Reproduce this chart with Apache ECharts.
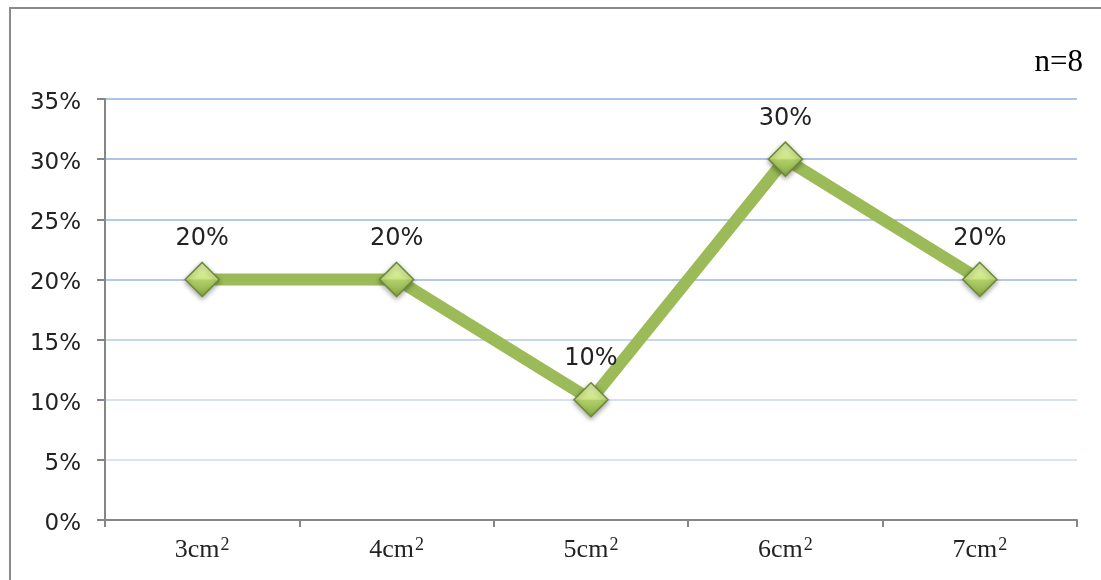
<!DOCTYPE html>
<html>
<head>
<meta charset="utf-8">
<script src="https://cdn.jsdelivr.net/npm/echarts@6/dist/echarts.min.js"></script>
<style>
  html, body { margin: 0; padding: 0; background: #fff; }
  #chart { width: 1101px; height: 580px; }
</style>
</head>
<body>
<div id="chart"></div>
<script>
// Share of samples per leaf area (n=8)
const categories = ['3cm²', '4cm²', '5cm²', '6cm²', '7cm²'];
const shares = [20, 20, 10, 30, 20];
const sampleNote = 'n=8';

const chart = echarts.init(document.getElementById('chart'), null, { renderer: 'canvas' });

const axisGray = '#868686';
const green = '#9BBB59';
const serif = '"Liberation Serif", "DejaVu Serif", serif';
const sans = '"DejaVu Sans", Verdana, sans-serif';

// gridline shades from 0% upward: paler near the bottom
const gridShades = ['#d6e1f2', '#d8e3f3', '#d6e1f2', '#c8d7ef', '#b4c9ea', '#b4c9ea', '#adc4e8', '#adc4e8'];

chart.setOption({
  backgroundColor: '#ffffff',
  animation: false,
  grid: { left: 105, right: 24, top: 99, bottom: 60 },
  graphic: [
    {
      type: 'polyline',
      silent: true,
      shape: { points: [[10, 590], [10, 8], [1120, 8]] },
      style: { stroke: '#8a8a8a', lineWidth: 2, fill: null }
    },
    {
      type: 'text',
      right: 18,
      top: 47,
      style: {
        text: sampleNote,
        font: '31px ' + serif,
        fill: '#000'
      }
    }
  ],
  xAxis: {
    type: 'category',
    data: categories,
    boundaryGap: true,
    axisLine: { lineStyle: { color: axisGray, width: 2 } },
    axisTick: { show: true, length: 7, lineStyle: { color: axisGray, width: 2 } },
    axisLabel: {
      margin: 16,
      // draw the trailing "²" as a raised, smaller digit
      formatter: (v) => '{base|' + v.replace('²', '') + '}{sup|2}',
      rich: {
        base: { fontSize: 26, fontFamily: serif, color: '#222' },
        sup: { fontSize: 18, fontFamily: serif, color: '#222', verticalAlign: 'top', padding: [0, 0, 10, 1] }
      }
    },
    splitLine: { show: false }
  },
  yAxis: {
    type: 'value',
    min: 0,
    max: 35,
    interval: 5,
    axisLine: { show: true, lineStyle: { color: axisGray, width: 2 } },
    axisTick: { show: true, length: 8, lineStyle: { color: axisGray, width: 2 } },
    axisLabel: {
      formatter: '{v|{value}%}',
      margin: 24,
      rich: {
        v: { color: '#222', fontSize: 23, fontFamily: sans, padding: [8, 0, 0, 0] }
      }
    },
    splitLine: { show: true, lineStyle: { color: gridShades, width: 2 } }
  },
  series: [{
    type: 'line',
    data: shares,
    symbol: 'diamond',
    symbolSize: 34,
    lineStyle: { color: green, width: 12 },
    itemStyle: {
      color: new echarts.graphic.LinearGradient(0, 0, 0, 1, [
        { offset: 0, color: '#e6f5b4' },
        { offset: 0.48, color: '#cde684' },
        { offset: 0.52, color: '#b0cf68' },
        { offset: 1, color: '#89aa44' }
      ]),
      borderColor: '#6b8a34',
      borderWidth: 1.5,
      shadowBlur: 5,
      shadowColor: 'rgba(0,0,0,0.35)',
      shadowOffsetY: 2
    },
    label: {
      show: true,
      position: 'top',
      distance: 11,
      formatter: '{c}%',
      color: '#222',
      fontSize: 24,
      fontFamily: sans
    },
    z: 3
  }]
});
</script>
</body>
</html>
